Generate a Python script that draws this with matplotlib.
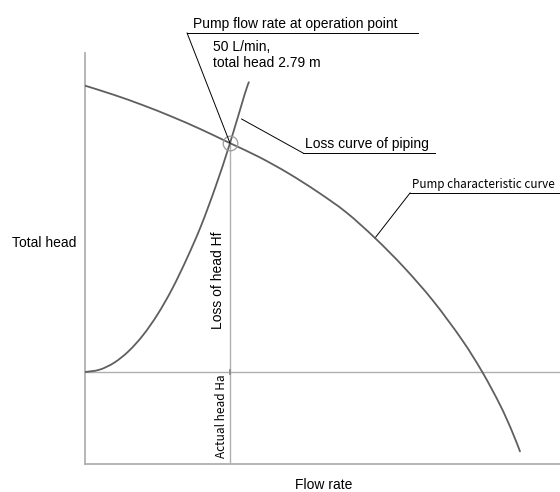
import matplotlib
matplotlib.use("Agg")
import matplotlib.pyplot as plt
from matplotlib.path import Path
from matplotlib.patches import PathPatch

# ---------------------------------------------------------------------------
# Data
# ---------------------------------------------------------------------------
# pump characteristic curve: flow rate [L/min] -> total head [m]
pump_q = [0, 10, 20, 30, 40, 50, 60, 70, 80, 90, 100, 110, 120, 130, 137, 143, 147, 150]
pump_h = [3.29, 3.21, 3.12, 3.02, 2.91, 2.79, 2.67, 2.53, 2.37, 2.19, 1.965, 1.71,
          1.42, 1.08, 0.80, 0.52, 0.30, 0.11]

# loss curve of piping
loss_q = [0, 5, 10, 15, 20, 25, 30, 35, 40, 45, 50, 55, 56.5]
loss_h = [0.80, 0.82, 0.88, 0.98, 1.12, 1.30, 1.52, 1.78, 2.07, 2.41, 2.79, 3.21, 3.32]

# operation point and actual head
op_q, op_h = 50, 2.79
actual_head = 0.80

x_max, y_max = 163.8, 3.574

CURVE = "#5f5f5f"
GUIDE = "#b0b0b0"
LEADER = "black"


def smooth_curve(ax, xs, ys, **kw):
    """Draw a smooth line through the points (Catmull-Rom as cubic Beziers)."""
    pts = list(zip(xs, ys))
    verts = [pts[0]]
    codes = [Path.MOVETO]
    for i in range(len(pts) - 1):
        p0 = pts[i - 1] if i > 0 else pts[i]
        p1, p2 = pts[i], pts[i + 1]
        p3 = pts[i + 2] if i + 2 < len(pts) else pts[i + 1]
        c1 = (p1[0] + (p2[0] - p0[0]) / 6, p1[1] + (p2[1] - p0[1]) / 6)
        c2 = (p2[0] - (p3[0] - p1[0]) / 6, p2[1] - (p3[1] - p1[1]) / 6)
        verts += [c1, c2, p2]
        codes += [Path.CURVE4] * 3
    ax.add_patch(PathPatch(Path(verts, codes), fill=False, **kw))


fig = plt.figure(figsize=(5.6, 4.92), dpi=100)
ax = fig.add_axes([85 / 560, 28 / 492, 475 / 560, 411 / 492])

ax.set_xlim(0, x_max)
ax.set_ylim(0, y_max)
ax.set_xticks([])
ax.set_yticks([])
for side in ("top", "right"):
    ax.spines[side].set_visible(False)
for side in ("left", "bottom"):
    ax.spines[side].set_color(GUIDE)
    ax.spines[side].set_linewidth(1.3)

# guide lines
ax.axhline(actual_head, color=GUIDE, lw=1.0, zorder=1)
ax.plot([op_q, op_q], [0, op_h], color=GUIDE, lw=1.0, zorder=1)
ax.plot([op_q], [actual_head], marker="|", ms=5, color="#888888", mew=1.2, zorder=2)

# curves
smooth_curve(ax, pump_q, pump_h, edgecolor=CURVE, lw=1.3, zorder=3, capstyle="round")
smooth_curve(ax, loss_q, loss_h, edgecolor=CURVE, lw=1.3, zorder=3, capstyle="round")

# operation point circle
ax.plot([op_q], [op_h], marker="o", ms=10.5, mfc="none", mec="#9a9a9a", mew=0.9, zorder=4)

# ---------------------------------------------------------------------------
# Labels and leaders
# ---------------------------------------------------------------------------
main_font = ["Liberation Sans", "DejaVu Sans"]
narrow_font = ["Noto Sans CJK JP", "DejaVu Sans"]

ax.set_ylabel("Total head", rotation=0, fontsize=10, family=main_font,
              ha="center", va="center")
ax.yaxis.set_label_coords(-0.0863, 0.538)
ax.set_xlabel("Flow rate", fontsize=10, family=main_font, ha="center", va="center")
ax.xaxis.set_label_coords(0.503, -0.051)

# pump flow rate at operation point
ax.plot([35.2, 114.8], [3.748, 3.748], color=LEADER, lw=0.7, clip_on=False)
ax.plot([35.2, op_q], [3.748, op_h], color=LEADER, lw=0.7, clip_on=False, zorder=5)
ax.text(37.2, 3.795, "Pump flow rate at operation point", fontsize=10,
        family=main_font, ha="left", va="baseline")
ax.text(44.1, 3.69, "50 L/min,\ntotal head 2.79 m", fontsize=10,
        family=main_font, ha="left", va="top", linespacing=1.25)

# loss curve of piping
ax.plot([75.2, 120.7], [2.704, 2.704], color=LEADER, lw=0.7)
ax.plot([75.2, 54.0], [2.704, 3.0], color=LEADER, lw=0.7)
ax.text(75.9, 2.745, "Loss curve of piping", fontsize=10,
        family=main_font, ha="left", va="baseline")

# pump characteristic curve
ax.plot([112.1, x_max], [2.357, 2.357], color=LEADER, lw=0.7, clip_on=False)
ax.plot([112.1, pump_q[10]], [2.357, pump_h[10]], color=LEADER, lw=0.7)
ax.text(112.8, 2.40, "Pump characteristic curve", fontsize=8.4,
        family=narrow_font, ha="left", va="baseline")

# head components along the operation point
ax.text(45.9, 1.60, "Loss of head Hf", fontsize=10, rotation=90,
        family=main_font, ha="center", va="center")
ax.text(47.2, 0.417, "Actual head Ha", fontsize=8.5, rotation=90,
        family=narrow_font, ha="center", va="center")

fig.savefig("out.png", dpi=100)
